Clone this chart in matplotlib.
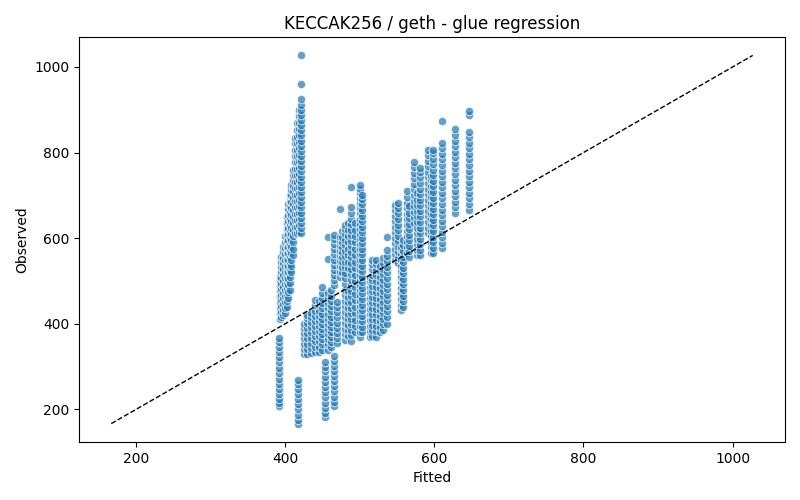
import matplotlib
matplotlib.use("Agg")
import matplotlib.pyplot as plt
import numpy as np

# Fitted value of each vertical column of points
column_fitted = [
    392, 417, 454, 466,
    393, 395, 397, 400, 402, 404, 406, 408, 410, 413, 416, 419, 422,
    425, 430, 435, 440, 445, 449, 457, 461,
    465, 469, 473, 477, 481, 485, 489, 494, 500, 503,
    514, 517, 522, 527, 531, 537,
    547, 551, 555, 558, 563, 566, 573, 577, 581,
    592, 596, 599, 610, 628, 646,
]

# Observed values in each column
column_observed = [
    [208, 215, 224, 236, 248, 260, 272, 285, 297, 310, 322, 334, 347, 358, 368],
    [167, 176, 188, 200, 212, 224, 236, 248, 259, 268],
    [182, 192, 204, 216, 228, 240, 252, 264, 276, 289, 300, 312],
    [207, 218, 230, 242, 254, 266, 278, 290, 302, 314, 324],
    [412, 425, 438, 450, 463, 476, 488, 500, 510],
    [415, 428, 441, 455, 468, 481, 494, 507, 520, 533, 545, 555],
    [420, 433, 446, 460, 473, 487, 500, 514, 527, 541, 554, 567, 580],
    [425, 438, 452, 466, 480, 494, 508, 522, 536, 550, 564, 578, 592, 606],
    [440, 454, 468, 482, 496, 510, 524, 538, 552, 566, 580, 594, 608, 622, 636, 650],
    [460, 475, 490, 505, 520, 535, 550, 565, 580, 595, 610, 625, 640, 655, 668, 680],
    [480, 495, 510, 525, 540, 555, 570, 585, 600, 615, 630, 645, 660, 675, 688, 700],
    [520, 535, 550, 565, 580, 595, 610, 625, 640, 655, 670, 685, 700, 712, 724],
    [560, 575, 590, 605, 620, 635, 650, 665, 680, 695, 710, 722, 735, 748, 760],
    [612, 627, 642, 657, 672, 687, 702, 717, 732, 747, 762, 777, 792, 807, 822, 835],
    [612, 627, 642, 657, 672, 687, 702, 717, 732, 747, 762, 777, 792, 807, 822, 837, 852, 870],
    [615, 630, 645, 660, 675, 690, 705, 720, 735, 750, 765, 780, 795, 810, 825, 840, 855, 870, 885, 900],
    [612, 624, 636, 648, 660, 672, 684, 696, 708, 720, 732, 744, 756, 768, 780, 792, 804, 816, 828,
     840, 852, 864, 876, 888, 900, 912, 925, 960, 1027],
    [330, 342, 354, 366, 378, 390, 400],
    [330, 342, 354, 366, 378, 390, 402, 414, 420],
    [332, 344, 356, 368, 380, 392, 404, 416, 425],
    [335, 347, 359, 371, 383, 395, 407, 419, 431, 443, 455],
    [335, 347, 359, 371, 383, 395, 407, 419, 431, 443, 453],
    [340, 352, 364, 376, 388, 400, 412, 424, 436, 448, 460, 472, 487],
    [340, 352, 364, 376, 388, 400, 412, 424, 436, 448, 460, 471, 552, 603],
    [345, 357, 369, 381, 393, 405, 417, 429, 441, 453, 465, 480],
    [490, 502, 514, 526, 538, 550, 562, 574, 586, 598, 608],
    [355, 367, 379, 391, 403, 415, 427, 439, 450],
    [510, 522, 534, 546, 558, 570, 582, 594, 603, 669],
    [520, 532, 544, 556, 568, 580, 592, 604, 618],
    [363, 376, 389, 402, 415, 428, 441, 454, 467, 480, 493, 506, 519, 532, 545, 558, 571, 584, 597,
     610, 622, 631],
    [372, 385, 398, 411, 424, 437, 450, 463, 476, 530, 545, 560, 575, 590, 605, 620, 635],
    [360, 373, 386, 399, 412, 425, 438, 451, 464, 477, 490, 503, 516, 529, 542, 555, 568, 581, 594,
     607, 620, 633, 646, 660, 673, 720],
    [380, 395, 410, 425, 440, 455, 470, 485, 500, 515, 530, 545, 560, 575, 590, 605, 620, 635],
    [370, 382, 394, 406, 418, 430, 442, 454, 466, 478, 490, 502, 514, 526, 538, 550, 562, 574, 586,
     598, 610, 622, 634, 646, 658, 670, 682, 694, 706, 715, 725],
    [380, 393, 406, 419, 432, 445, 458, 471, 484, 497, 510, 523, 536, 549, 562, 575, 588, 601, 614,
     627, 640, 653, 666, 679, 692, 700],
    [370, 383, 396, 409, 422, 435, 448, 461, 474, 487, 500, 510],
    [372, 385, 398, 411, 424, 437, 450, 463, 476, 489, 502, 515, 528, 540, 549],
    [370, 383, 396, 409, 422, 435, 448, 461, 474, 487, 500, 513, 526, 539, 549],
    [380, 393, 406, 419, 432, 445, 458, 471, 484, 497, 510, 523, 535],
    [386, 399, 412, 425, 438, 451, 464, 477, 490, 503, 516, 529, 542, 554],
    [400, 416, 429, 442, 455, 468, 481, 494, 507, 520, 533, 546, 559, 573, 604],
    [549, 562, 575, 588, 601, 614, 627, 640, 653, 665, 678],
    [541, 554, 567, 580, 593, 606, 619, 632, 645, 658, 670, 682],
    [432, 445, 458, 471, 484, 497, 510, 523, 536, 549, 562, 575, 580],
    [440, 453, 466, 479, 492, 505, 518, 531, 544, 557, 570, 583, 596],
    [566, 579, 592, 605, 618, 631, 644, 657, 670, 683, 696, 710],
    [556, 569, 582, 595, 608, 621, 634, 647, 660, 675],
    [636, 649, 662, 675, 688, 701, 714, 727, 740, 753, 766, 779],
    [560, 573, 586, 599, 612, 625, 638, 651, 664, 677, 690, 705],
    [560, 573, 586, 599, 612, 625, 638, 651, 664, 677, 690, 703, 716, 729, 742, 755, 765],
    [612, 625, 638, 651, 664, 677, 690, 703, 716, 729, 742, 755, 768, 781, 794, 807],
    [566, 579, 592, 605, 618, 631, 644, 657, 670, 683, 696, 709, 722, 735, 745],
    [565, 578, 591, 604, 617, 630, 643, 656, 669, 682, 695, 708, 721, 734, 747, 760, 773, 786, 799, 807],
    [576, 589, 602, 615, 628, 641, 654, 667, 680, 693, 706, 719, 732, 745, 758, 771, 784, 797, 810,
     823, 873],
    [659, 672, 685, 698, 711, 724, 737, 750, 763, 776, 789, 802, 815, 828, 841, 854],
    [667, 680, 693, 706, 719, 732, 745, 758, 771, 784, 797, 810, 823, 836, 849, 887, 897],
]

title = "KECCAK256 / geth - glue regression"
x_label = "Fitted"
y_label = "Observed"

fitted = []
observed = []
for fx, ys in zip(column_fitted, column_observed):
    for y in ys:
        fitted.append(fx)
        observed.append(y)
fitted = np.array(fitted, dtype=float)
observed = np.array(observed, dtype=float)

fig, ax = plt.subplots(figsize=(8, 5), dpi=100)
fig.subplots_adjust(left=0.099, right=0.981, top=0.926, bottom=0.116)

ax.scatter(fitted, observed, s=36, color="#1f77b4", alpha=0.7,
           edgecolors="white", linewidths=0.75)

lo = min(fitted.min(), observed.min())
hi = max(fitted.max(), observed.max())
ax.plot([lo, hi], [lo, hi], "k--", linewidth=1)

ax.set_title(title, fontsize=12)
ax.set_xlabel(x_label)
ax.set_ylabel(y_label)

fig.savefig("out.png", dpi=100)
